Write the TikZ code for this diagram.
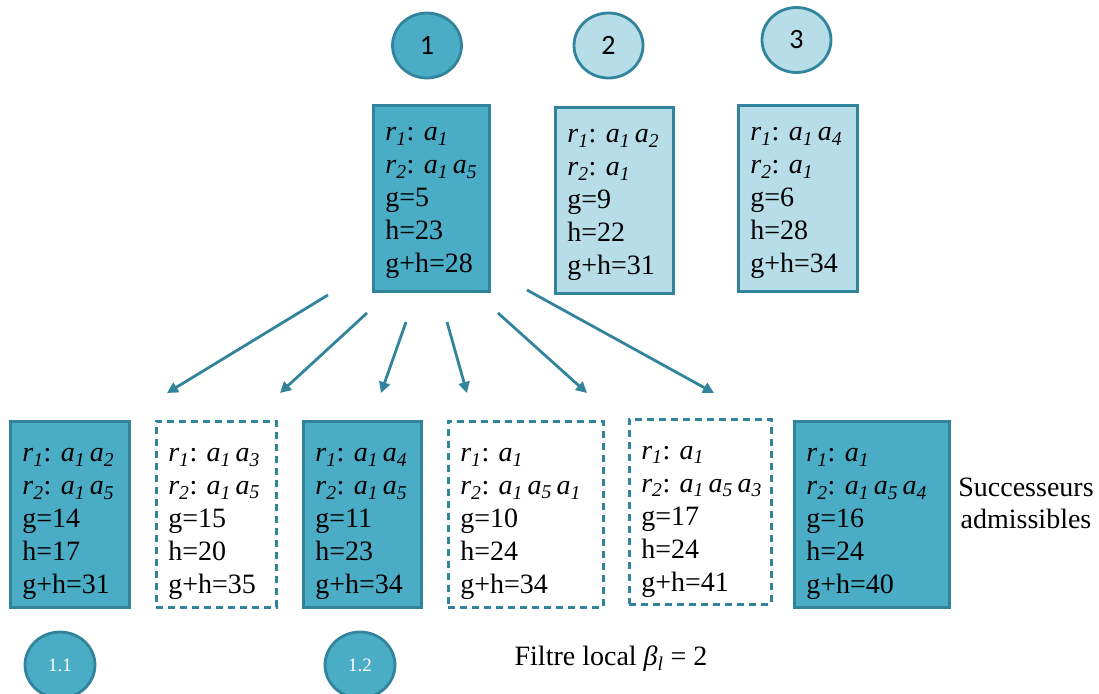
\documentclass[tikz,border=0pt]{standalone}
\usepackage{fontspec}
\setmainfont{Liberation Serif}
\newfontfamily\calib{Carlito}
\usetikzlibrary{arrows.meta,shapes.geometric}
\definecolor{aquadark}{HTML}{4BACC6}
\definecolor{aqualight}{HTML}{B7DDE8}
\definecolor{aquaedge}{HTML}{31849B}
\newcommand{\ri}[1]{\textit{r}\textsubscript{\textit{#1}}}
\newcommand{\ai}[1]{\textit{a}\textsubscript{\textit{#1}}}
\newcommand{\oneline}[1]{\mbox{#1}}
\newcommand{\firststrut}{\rule{0pt}{\firsth}}
\def\firsth{13pt}
\tikzset{
  boxbase/.style={rectangle, draw=aquaedge, line width=2.8pt, inner xsep=12pt, inner ysep=0pt,
    minimum height=186pt, align=left, font=\fontsize{28}{33}\selectfont, anchor=north west},
  upper/.style={execute at begin node={\def\firsth{23pt}}},
  lower/.style={execute at begin node={\def\firsth{33pt}}},
  darkbox/.style={boxbase, fill=aquadark},
  lightbox/.style={boxbase, fill=aqualight},
  dashbox/.style={boxbase, fill=white, line width=2.5pt, dash pattern=on 7pt off 5pt},
  topcirc/.style={ellipse, draw=aquaedge, line width=2.8pt, minimum width=69pt, minimum height=65pt,
    inner sep=0pt, font=\calib\fontsize{28}{28}\selectfont},
  botcirc/.style={ellipse, draw=aquaedge, fill=aquadark, line width=2.8pt, minimum width=70pt,
    minimum height=66pt, inner sep=0pt, text=white, font=\fontsize{19}{19}\selectfont},
  succarrow/.style={draw=aquaedge, line width=2.8pt, -{Triangle[length=11pt,width=11pt]}},
  label/.style={font=\fontsize{28}{32}\selectfont, align=center}
}
\begin{document}
\begin{tikzpicture}[x=1pt,y=-1pt]
\useasboundingbox (0,0) rectangle (1099,693);
% top circles
\node[topcirc, fill=aquadark] (c1) at (427,45.5) {1};
\node[topcirc, fill=aqualight] (c2) at (608.5,45.5) {2};
\node[topcirc, fill=aqualight] (c3) at (796.5,40) {3};
% top boxes
\node[darkbox, upper, text width=92pt] (t1) at (372,104) {\oneline{\firststrut\ri1:~\ai1}\\ \oneline{\ri2:~\ai1\,\ai5}\\ g=5\\ h=23\\ g+h=28};
\node[lightbox, upper, text width=94pt] (t2) at (554,106) {\oneline{\firststrut\ri1:~\ai1\,\ai2}\\ \oneline{\ri2:~\ai1}\\ g=9\\ h=22\\ g+h=31};
\node[lightbox, upper, text width=95pt] (t3) at (737,104) {\oneline{\firststrut\ri1:~\ai1\,\ai4}\\ \oneline{\ri2:~\ai1}\\ g=6\\ h=28\\ g+h=34};
% bottom boxes
\node[darkbox, lower, text width=95pt] (b1) at (9,420) {\oneline{\firststrut\ri1:~\ai1\,\ai2}\\ \oneline{\ri2:~\ai1\,\ai5}\\ g=14\\ h=17\\ g+h=31};
\node[dashbox, lower, text width=96pt] (b2) at (155,420) {\oneline{\firststrut\ri1:~\ai1\,\ai3}\\ \oneline{\ri2:~\ai1\,\ai5}\\ g=15\\ h=20\\ g+h=35};
\node[darkbox, lower, text width=94pt] (b3) at (302,420) {\oneline{\firststrut\ri1:~\ai1\,\ai4}\\ \oneline{\ri2:~\ai1\,\ai5}\\ g=11\\ h=23\\ g+h=34};
\node[dashbox, lower, text width=131pt] (b4) at (447,420) {\oneline{\firststrut\ri1:~\ai1}\\ \oneline{\ri2:~\ai1\,\ai5\,\ai1}\\ g=10\\ h=24\\ g+h=34};
\node[dashbox, lower, text width=118pt, minimum height=185pt] (b5) at (628,418) {\oneline{\firststrut\ri1:~\ai1}\\ \oneline{\ri2:~\ai1\,\ai5\,\ai3}\\ g=17\\ h=24\\ g+h=41};
\node[darkbox, lower, text width=131pt] (b6) at (793,420) {\oneline{\firststrut\ri1:~\ai1}\\ \oneline{\ri2:~\ai1\,\ai5\,\ai4}\\ g=16\\ h=24\\ g+h=40};
% labels
\node[label] (succ) at (1026,503) {Successeurs\\admissibles};
\node[label] (filt) at (611,659) {Filtre local \textit{β}\textsubscript{\textit{l}} = 2};
% bottom circles
\node[botcirc] (c11) at (60,665) {1.1};
\node[botcirc] (c12) at (360,665) {1.2};
% arrows
\coordinate (s1) at (328,295); \coordinate (e1) at (167,393);
\coordinate (s2) at (367,313); \coordinate (e2) at (280,393);
\coordinate (s3) at (406,322); \coordinate (e3) at (381,393);
\coordinate (s4) at (447,322); \coordinate (e4) at (467,393);
\coordinate (s5) at (498,313); \coordinate (e5) at (587,393);
\coordinate (s6) at (527,290); \coordinate (e6) at (714,393);
\foreach \i in {1,...,6}{\draw[succarrow] (s\i) -- (e\i);}
\end{tikzpicture}
\end{document}
